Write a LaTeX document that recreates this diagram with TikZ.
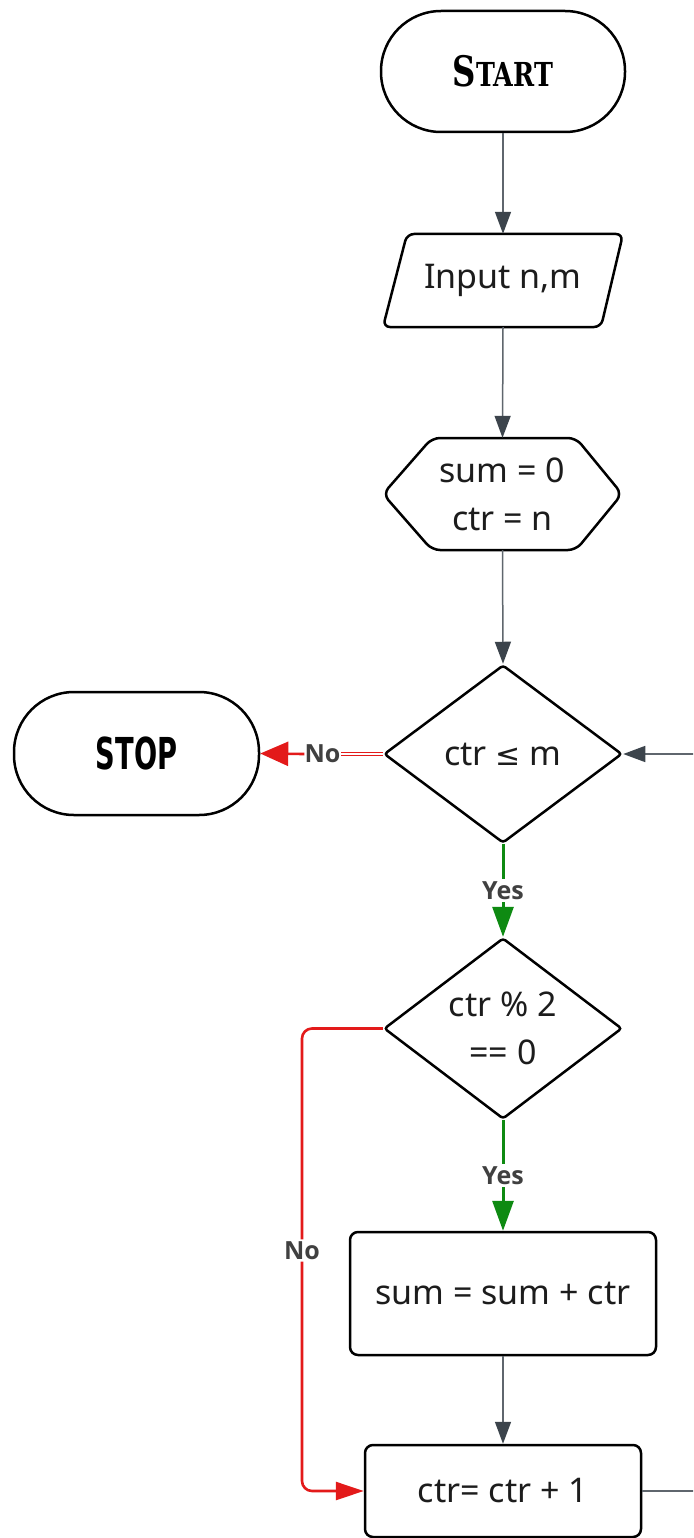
\documentclass[tikz,border=0pt]{standalone}
\usepackage{fontspec}
\setmainfont{Noto Sans}
\newfontfamily\startfont{DejaVu Serif}[FakeStretch=0.77]
\newfontfamily\stopfont{DejaVu Sans}[FakeStretch=0.62]
\newfontfamily\symfont{DejaVu Sans}
\newfontfamily\lblfont{Open Sans}
\usetikzlibrary{arrows.meta,shapes.geometric}
\definecolor{linec}{HTML}{5F666D}
\definecolor{tipc}{HTML}{3C444C}
\definecolor{redc}{HTML}{E31A1A}
\definecolor{greenc}{HTML}{0E8A12}
\definecolor{textc}{HTML}{1C1C1C}
\definecolor{lblc}{HTML}{404040}
\tikzset{
  box/.style={draw=black, line width=2.5pt, fill=white, inner sep=0pt, align=center,
    font=\fontsize{34}{48}\selectfont, text=textc},
  term/.style={box, rounded corners=60pt, minimum width=244pt, minimum height=121pt, text=black},
  ghost/.style={inner sep=0pt, align=center, font=\fontsize{34}{48}\selectfont, text=textc},
  dec/.style={box, diamond, rounded corners=3pt, minimum width=238pt, minimum height=178pt},
  proc/.style={box, rounded corners=8pt},
  conn/.style={draw=linec, line width=1.5pt, -{Triangle[length=22pt,width=16pt,color=tipc]}},
  yesc/.style={draw=greenc, line width=3pt, -{Triangle[length=30pt,width=21pt]}},
  noc/.style={draw=redc, line width=2.6pt, rounded corners=10pt, -{Triangle[length=28pt,width=18pt]}},
  lbl/.style={fill=white, inner sep=2pt, text=lblc, font=\lblfont\bfseries\fontsize{25}{25}\selectfont},
}
\begin{document}
\begin{tikzpicture}[x=1pt,y=-1pt]
\useasboundingbox (0,0) rectangle (693,1538);
\clip (0,0) rectangle (693,1538);
\fill[white] (0,0) rectangle (693,1538);

% nodes
\node[term] (start) at (503,71.5) {\startfont\bfseries{\fontsize{42}{42}\selectfont S}{\fontsize{33}{33}\selectfont TART}};
\node[ghost, minimum width=241pt, minimum height=93pt] (in) at (503,280.5) {Input n,m};
\draw[black, line width=2.5pt, rounded corners=7pt] (383,327) -- (407,234) -- (623,234) -- (601,327) -- cycle;
\node[ghost, minimum width=239pt, minimum height=112pt] (init) at (502.5,494) {};
\draw[black, line width=2.5pt, rounded corners=8pt] (383,494) -- (432,438) -- (576,438) -- (622,494) -- (576,550) -- (432,550) -- cycle;
\node[ghost] at (init) {sum = 0\\ctr = n};
\node[dec] (d1) at (503,754) {ctr {\symfont\fontsize{30}{30}\selectfont ≤} m};
\node[term, minimum width=245pt, minimum height=123pt] (stop) at (136.5,753.5) {\stopfont\bfseries\fontsize{44}{44}\selectfont STOP};
\node[dec] (d2) at (503,1028.5) {ctr \% 2\\== 0};
\node[proc, minimum width=306pt, minimum height=123pt] (sum) at (503,1293.5) {sum = sum + ctr};
\node[proc, minimum width=276pt, minimum height=92pt] (ctr) at (503,1491) {ctr= ctr + 1};

% connectors
\draw[conn] (start.south) -- (in.north);
\draw[conn] (in.south) -- (init.north);
\draw[conn] (init.south) -- (d1.north);
\draw[yesc] (d1.south) -- node[lbl]{Yes} (d2.north);
\draw[yesc] (d2.south) -- node[lbl]{Yes} (sum.north);
\draw[conn] (sum.south) -- (ctr.north);
\node[text=lblc, inner sep=0pt, font=\lblfont\bfseries\fontsize{25}{25}\selectfont] (nolab) at (322.5,754) {No};
\draw[redc, line width=1.6pt, double=white, double distance=1.6pt] (d1.west) -- (nolab.east);
\draw[redc, line width=2.6pt, -{Triangle[length=28pt,width=24pt]}] (nolab.west) -- (stop.east);
\draw[noc] (d2.west) -- (302,1028.5) |- node[lbl, pos=0.24]{No} (ctr.west);
\draw[conn] (ctr.east) -- (740,1491) |- (d1.east);
\end{tikzpicture}
\end{document}
